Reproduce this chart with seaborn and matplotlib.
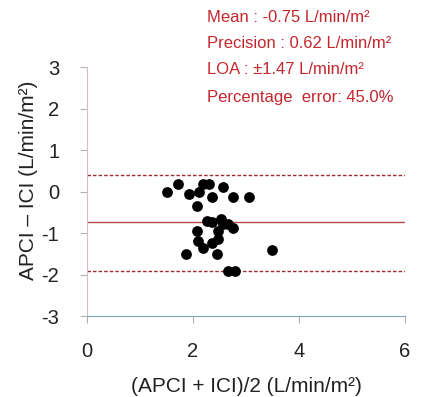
import matplotlib
matplotlib.use("Agg")
import matplotlib.pyplot as plt
import seaborn as sns
import pandas as pd

sns.set_theme(style="white")
plt.rcParams['font.family'] = ['Liberation Sans', 'DejaVu Sans']
plt.rcParams['axes.unicode_minus'] = False

# Data
mean_x = [1.50, 1.71, 1.92, 2.12, 2.19, 2.30, 2.35, 2.56, 2.76, 3.06,
          2.08, 2.26, 2.36, 2.53, 2.57, 2.67, 2.75, 2.08, 2.48, 2.48,
          2.10, 2.19, 2.35, 2.46, 1.86, 3.50, 2.67, 2.79]
diff_y = [-0.02, 0.18, -0.06, 0.00, 0.19, 0.19, -0.12, 0.10, -0.12, -0.12,
          -0.36, -0.70, -0.74, -0.66, -0.78, -0.78, -0.88, -0.94, -0.94, -1.14,
          -1.20, -1.36, -1.25, -1.50, -1.50, -1.40, -1.91, -1.91]
bias = -0.73
loa_upper = 0.41
loa_lower = -1.91
x_ticks = [0, 2, 4, 6]
y_ticks = [-3, -2, -1, 0, 1, 2, 3]
stats_text = ["Mean : -0.75 L/min/m\u00b2",
              "Precision : 0.62 L/min/m\u00b2",
              "LOA : \u00b11.47 L/min/m\u00b2",
              "Percentage  error: 45.0%"]

df = pd.DataFrame({"x": mean_x, "y": diff_y})

fig = plt.figure(figsize=(4.27, 3.97), dpi=100)
ax = fig.add_axes([0.204, 0.204, 0.744, 0.627])

sns.scatterplot(data=df, x="x", y="y", ax=ax, color="black", s=60,
                edgecolor="black", linewidth=0, zorder=3)

ax.axhline(bias, color="#b5474a", lw=1.0, zorder=2)
ax.axhline(loa_upper, color="#9e2a2f", lw=1.0, ls=(0, (2.5, 1.5)), zorder=2)
ax.axhline(loa_lower, color="#9e2a2f", lw=1.0, ls=(0, (2.5, 1.5)), zorder=2)

ax.set_xlim(0, 6)
ax.set_ylim(-3, 3)
ax.set_xticks(x_ticks)
ax.set_yticks(y_ticks)
ax.tick_params(axis="both", labelsize=14.5, labelcolor="#222222", length=5,
               width=0.8, direction="out", bottom=True, left=True, color="#b8b0b0")
ax.tick_params(axis="x", pad=14)
ax.tick_params(axis="y", pad=15)
for side in ["top", "right"]:
    ax.spines[side].set_visible(False)
ax.spines["left"].set_color("#d0c0c0")
ax.spines["bottom"].set_color("#7fa8b0")
ax.spines["left"].set_linewidth(0.8)
ax.spines["bottom"].set_linewidth(0.8)

ax.set_xlabel("(APCI + ICI)/2 (L/min/m\u00b2)", fontsize=15, color="#222222")
ax.set_ylabel("APCI \u2013 ICI (L/min/m\u00b2)", fontsize=15, color="#222222")
ax.xaxis.set_label_coords(0.5, -0.285)
ax.yaxis.set_label_coords(-0.186, 0.546)
ax.xaxis.label.set_va("center")
ax.yaxis.label.set_va("center")

ys = [0.957, 0.891, 0.824, 0.755]
for t, yy in zip(stats_text, ys):
    fig.text(0.485, yy, t, fontsize=12, color="#c4262e", va="center", ha="left")

fig.savefig("out.png", dpi=100, facecolor="white")
